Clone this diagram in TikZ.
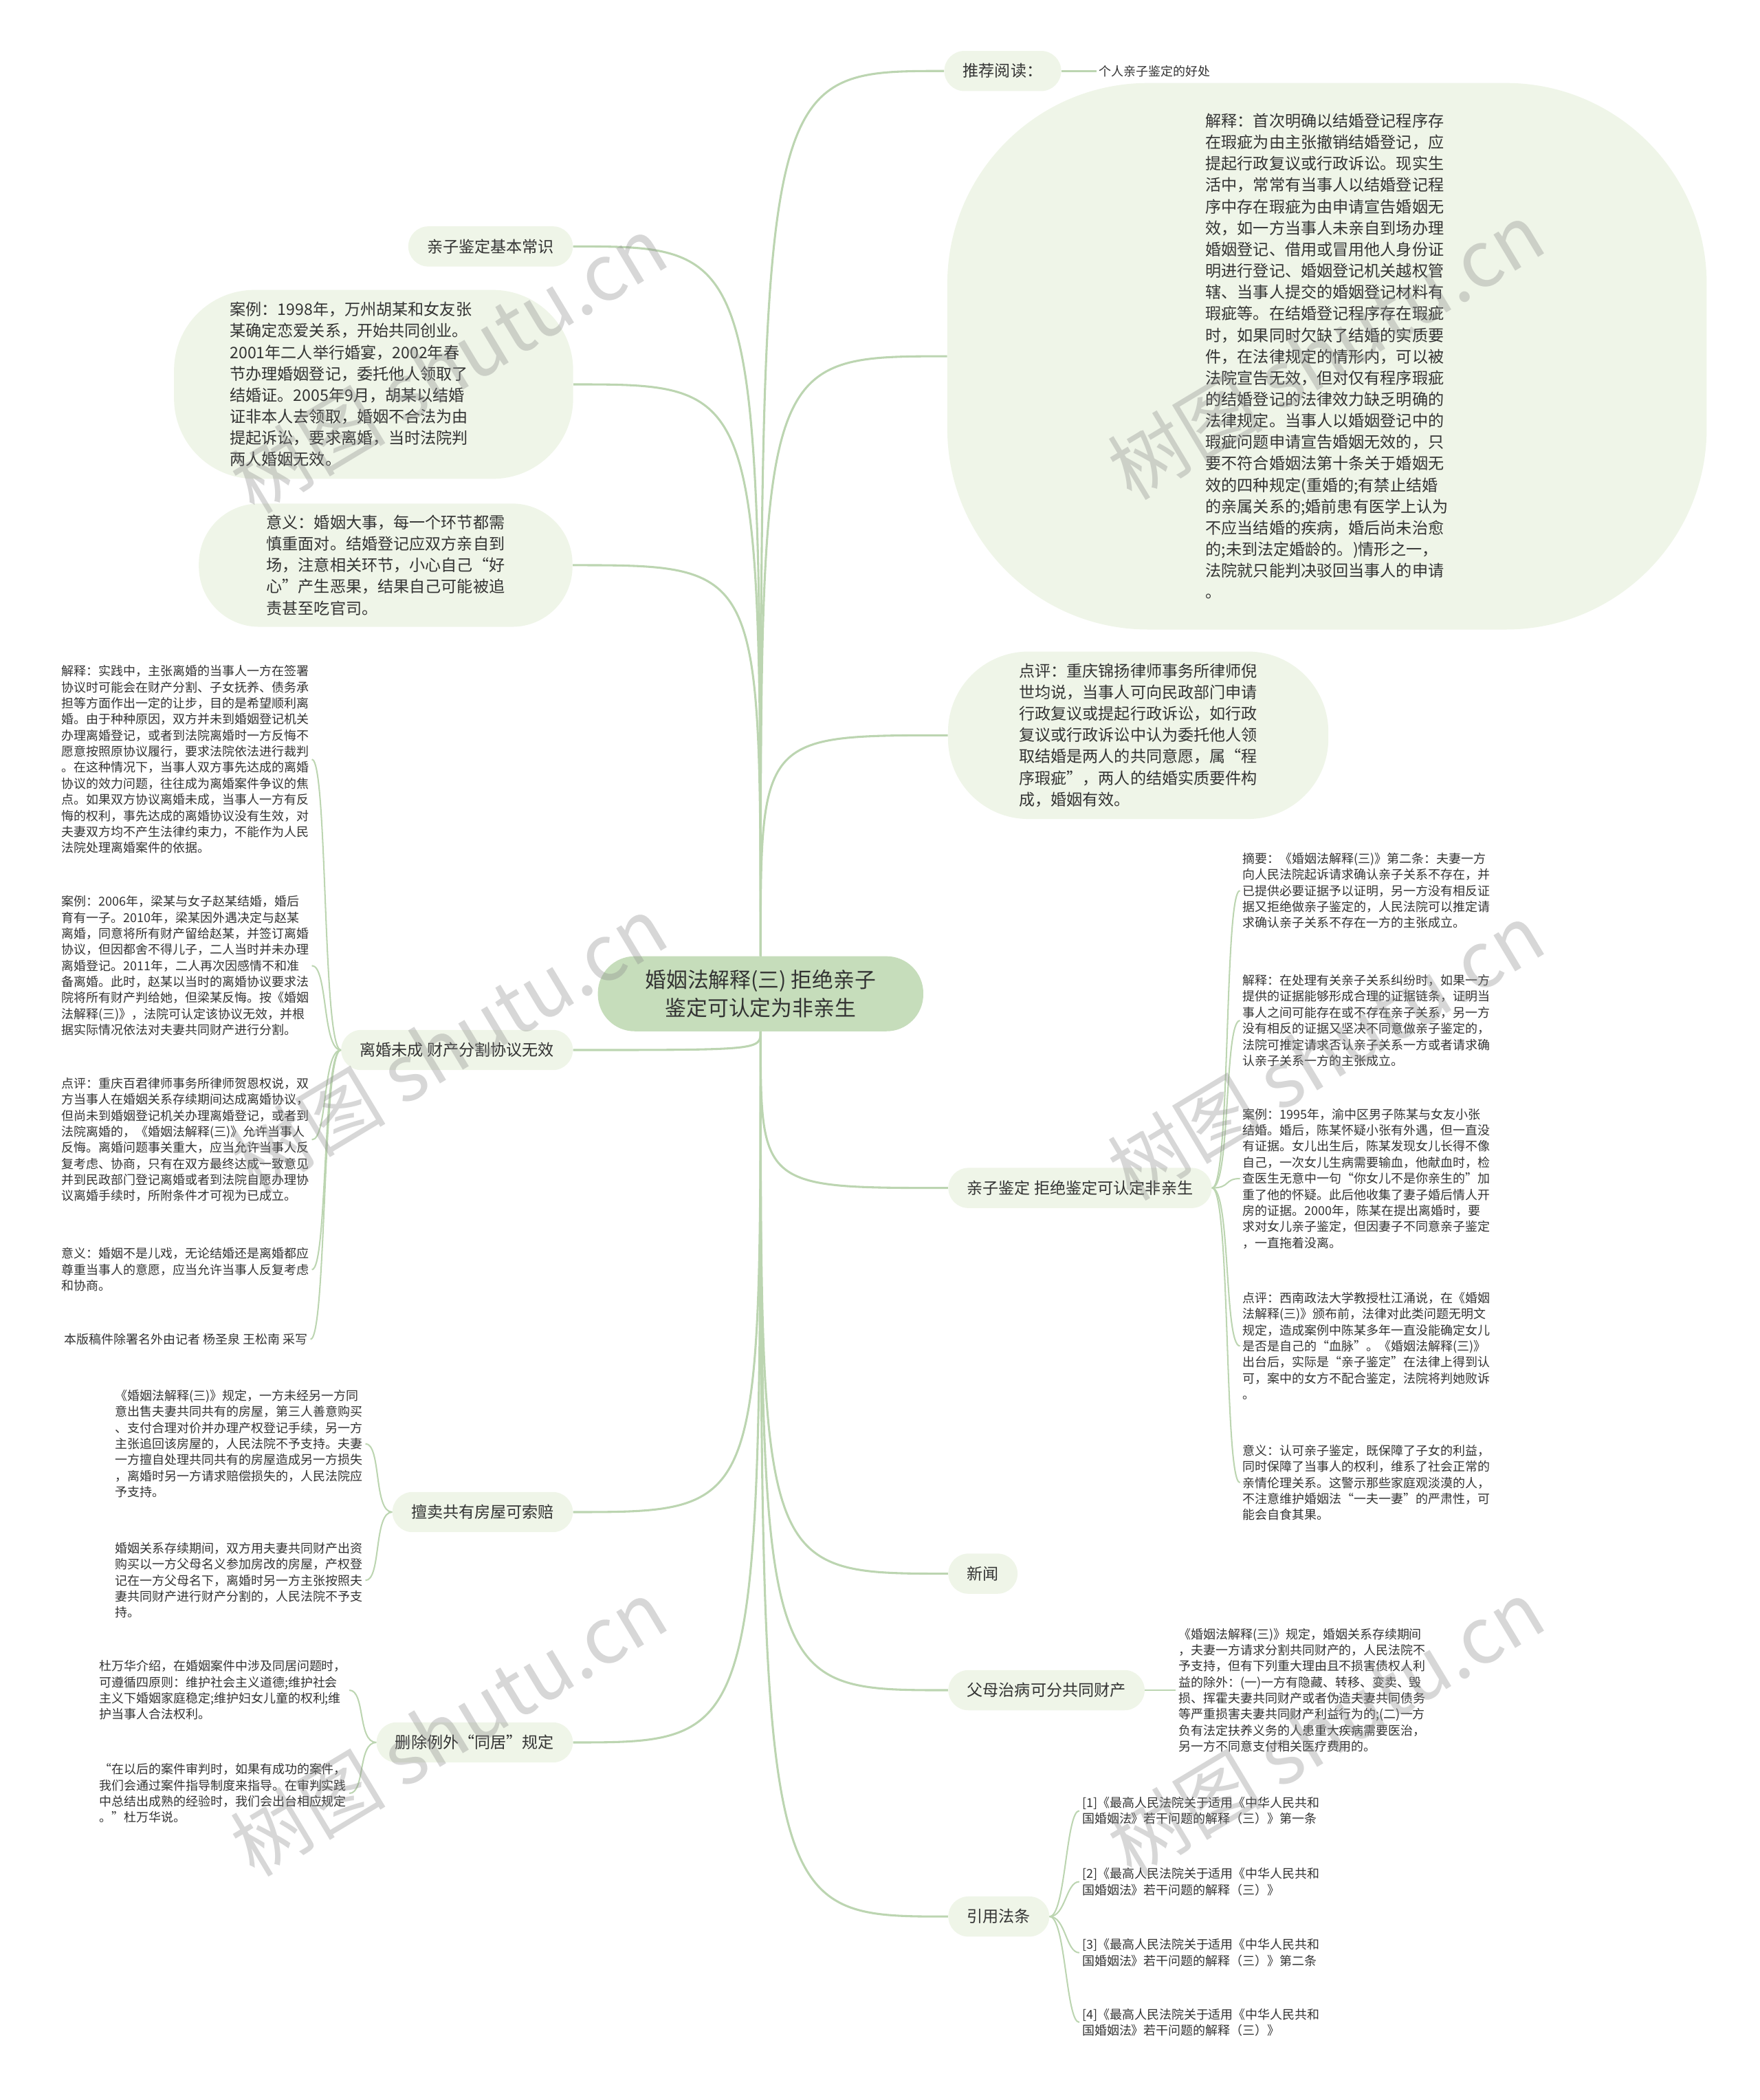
\documentclass[tikz,border=0pt]{standalone}
\usepackage{fontspec}
\setmainfont{Noto Sans CJK SC}
\usetikzlibrary{positioning}
\definecolor{MMRoot}{HTML}{C6DDBB}
\definecolor{MMTopic}{HTML}{EFF5E8}
\definecolor{MMLine}{HTML}{BCD5B1}
\definecolor{MMText}{HTML}{333333}
\definecolor{MMWater}{HTML}{8C8C8C}

\begin{document}
\begin{tikzpicture}[
      x=.04cm,y=-.04cm,
      root/.style={fill=MMRoot,rounded corners=1.1cm,minimum width=9.72cm,
        minimum height=2.24cm,align=center,text=MMText,
        font=\fontsize{18}{24}\selectfont},
      topic/.style={fill=MMTopic,rounded corners=.6cm,minimum height=1.2cm,
        inner xsep=.56cm,text=MMText,font=\fontsize{13.5}{18.2}\selectfont},
      bubble/.style={fill=MMTopic,rounded corners=2.4cm,align=left,
        text=MMText,font=\fontsize{13.5}{18.2}\selectfont},
      note/.style={align=left,inner sep=.08cm,text=MMText,
        font=\fontsize{10.5}{13.66}\selectfont},
      link/.style={draw=MMLine,line width=1.8pt},
      twig/.style={draw=MMLine,line width=1.2pt},
      wmark/.style={rotate=31,text=MMWater,text opacity=.35,
        font=\fontsize{66}{70}\selectfont}
    ]
      \useasboundingbox (0,0) rectangle (1314,1568);
      % centre
      \node[root] (root) at (568,742) {婚姻法解释(三) 拒绝亲子\\鉴定可认定为非亲生};

      % right side
      \node[topic,anchor=west] (tjyd) at (705,53) {推荐阅读：};
      \node[note,right=1.04cm of tjyd] (grqz) {个人亲子鉴定的好处};
      \node[bubble,minimum width=22.68cm,minimum height=16.32cm,rounded corners=6cm] (xcjs) at (991,266) {解释：首次明确以结婚登记程序存\\在瑕疵为由主张撤销结婚登记，应\\提起行政复议或行政诉讼。现实生\\活中，常常有当事人以结婚登记程\\序中存在瑕疵为由申请宣告婚姻无\\效，如一方当事人未亲自到场办理\\婚姻登记、借用或冒用他人身份证\\明进行登记、婚姻登记机关越权管\\辖、当事人提交的婚姻登记材料有\\瑕疵等。在结婚登记程序存在瑕疵\\时，如果同时欠缺了结婚的实质要\\件，在法律规定的情形内，可以被\\法院宣告无效，但对仅有程序瑕疵\\的结婚登记的法律效力缺乏明确的\\法律规定。当事人以婚姻登记中的\\瑕疵问题申请宣告婚姻无效的，只\\要不符合婚姻法第十条关于婚姻无\\效的四种规定(重婚的;有禁止结婚\\的亲属关系的;婚前患有医学上认为\\不应当结婚的疾病，婚后尚未治愈\\的;未到法定婚龄的。)情形之一，\\法院就只能判决驳回当事人的申请\\。};
      \node[bubble,minimum width=11.36cm,minimum height=5cm] (njdp) at (850,549) {点评：重庆锦扬律师事务所律师倪\\世均说，当事人可向民政部门申请\\行政复议或提起行政诉讼，如行政\\复议或行政诉讼中认为委托他人领\\取结婚是两人的共同意愿，属“程\\序瑕疵”，两人的结婚实质要件构\\成，婚姻有效。};
      \node[topic,anchor=west] (qzjd) at (708,887) {亲子鉴定 拒绝鉴定可认定非亲生};
      \node[topic,anchor=west] (xw) at (708,1175) {新闻};
      \node[topic,anchor=west] (fmzb) at (708,1262) {父母治病可分共同财产};
      \node[topic,anchor=west] (yyft) at (708,1431) {引用法条};

      \node[note,anchor=west] (qzzy) at (926,665) {摘要：《婚姻法解释(三)》第二条：夫妻一方\\向人民法院起诉请求确认亲子关系不存在，并\\已提供必要证据予以证明，另一方没有相反证\\据又拒绝做亲子鉴定的，人民法院可以推定请\\求确认亲子关系不存在一方的主张成立。};
      \node[note,anchor=west] (qzjs) at (926,762) {解释：在处理有关亲子关系纠纷时，如果一方\\提供的证据能够形成合理的证据链条，证明当\\事人之间可能存在或不存在亲子关系，另一方\\没有相反的证据又坚决不同意做亲子鉴定的，\\法院可推定请求否认亲子关系一方或者请求确\\认亲子关系一方的主张成立。};
      \node[note,anchor=west] (qzal) at (926,880) {案例：1995年，渝中区男子陈某与女友小张\\结婚。婚后，陈某怀疑小张有外遇，但一直没\\有证据。女儿出生后，陈某发现女儿长得不像\\自己，一次女儿生病需要输血，他献血时，检\\查医生无意中一句“你女儿不是你亲生的”加\\重了他的怀疑。此后他收集了妻子婚后情人开\\房的证据。2000年，陈某在提出离婚时，要\\求对女儿亲子鉴定，但因妻子不同意亲子鉴定\\，一直拖着没离。};
      \node[note,anchor=west] (qzdp) at (926,1005) {点评：西南政法大学教授杜江涌说，在《婚姻\\法解释(三)》颁布前，法律对此类问题无明文\\规定，造成案例中陈某多年一直没能确定女儿\\是否是自己的“血脉”。《婚姻法解释(三)》\\出台后，实际是“亲子鉴定”在法律上得到认\\可，案中的女方不配合鉴定，法院将判她败诉\\。};
      \node[note,anchor=west] (qzyy) at (926,1107) {意义：认可亲子鉴定，既保障了子女的利益，\\同时保障了当事人的权利，维系了社会正常的\\亲情伦理关系。这警示那些家庭观淡漠的人，\\不注意维护婚姻法“一夫一妻”的严肃性，可\\能会自食其果。};
      \node[note,right=.92cm of fmzb] (fmgd) {《婚姻法解释(三)》规定，婚姻关系存续期间\\，夫妻一方请求分割共同财产的，人民法院不\\予支持，但有下列重大理由且不损害债权人利\\益的除外：(一)一方有隐藏、转移、变卖、毁\\损、挥霍夫妻共同财产或者伪造夫妻共同债务\\等严重损害夫妻共同财产利益行为的;(二)一方\\负有法定扶养义务的人患重大疾病需要医治，\\另一方不同意支付相关医疗费用的。};
      \node[note,anchor=west] (ft1) at (806,1352) {[1]《最高人民法院关于适用《中华人民共和\\国婚姻法》若干问题的解释（三）》第一条};
      \node[note,anchor=west] (ft2) at (806,1405) {[2]《最高人民法院关于适用《中华人民共和\\国婚姻法》若干问题的解释（三）》};
      \node[note,anchor=west] (ft3) at (806,1458) {[3]《最高人民法院关于适用《中华人民共和\\国婚姻法》若干问题的解释（三）》第二条};
      \node[note,anchor=west] (ft4) at (806,1510) {[4]《最高人民法院关于适用《中华人民共和\\国婚姻法》若干问题的解释（三）》};

      % left side
      \node[topic,anchor=east] (jbcs) at (428,184) {亲子鉴定基本常识};
      \node[bubble,minimum width=11.92cm,minimum height=5.64cm] (hmal) at (279,287) {案例：1998年，万州胡某和女友张\hspace*{1.36cm}\\某确定恋爱关系，开始共同创业。\\2001年二人举行婚宴，2002年春\\节办理婚姻登记，委托他人领取了\\结婚证。2005年9月，胡某以结婚\\证非本人去领取，婚姻不合法为由\\提起诉讼，要求离婚，当时法院判\\两人婚姻无效。};
      \node[bubble,minimum width=11.16cm,minimum height=3.68cm,rounded corners=1.8cm] (hyyy) at (288,422) {意义：婚姻大事，每一个环节都需\\慎重面对。结婚登记应双方亲自到\\场，注意相关环节，小心自己“好\\心”产生恶果，结果自己可能被追\\责甚至吃官司。};
      \node[topic,anchor=east] (lhwc) at (428,784) {离婚未成 财产分割协议无效};
      \node[topic,anchor=east] (smfw) at (428,1129) {擅卖共有房屋可索赔};
      \node[topic,anchor=east] (sclw) at (428,1301) {删除例外“同居”规定};

      \node[note,anchor=west] (lhjs) at (44,567) {解释：实践中，主张离婚的当事人一方在签署\\协议时可能会在财产分割、子女抚养、债务承\\担等方面作出一定的让步，目的是希望顺利离\\婚。由于种种原因，双方并未到婚姻登记机关\\办理离婚登记，或者到法院离婚时一方反悔不\\愿意按照原协议履行，要求法院依法进行裁判\\。在这种情况下，当事人双方事先达成的离婚\\协议的效力问题，往往成为离婚案件争议的焦\\点。如果双方协议离婚未成，当事人一方有反\\悔的权利，事先达成的离婚协议没有生效，对\\夫妻双方均不产生法律约束力，不能作为人民\\法院处理离婚案件的依据。};
      \node[note,anchor=west] (lhal) at (44,721) {案例：2006年，梁某与女子赵某结婚，婚后\\育有一子。2010年，梁某因外遇决定与赵某\\离婚，同意将所有财产留给赵某，并签订离婚\\协议，但因都舍不得儿子，二人当时并未办理\\离婚登记。2011年，二人再次因感情不和准\\备离婚。此时，赵某以当时的离婚协议要求法\\院将所有财产判给她，但梁某反悔。按《婚姻\\法解释(三)》，法院可认定该协议无效，并根\\据实际情况依法对夫妻共同财产进行分割。};
      \node[note,anchor=west] (lhdp) at (44,851) {点评：重庆百君律师事务所律师贺恩权说，双\\方当事人在婚姻关系存续期间达成离婚协议，\\但尚未到婚姻登记机关办理离婚登记，或者到\\法院离婚的，《婚姻法解释(三)》允许当事人\\反悔。离婚问题事关重大，应当允许当事人反\\复考虑、协商，只有在双方最终达成一致意见\\并到民政部门登记离婚或者到法院自愿办理协\\议离婚手续时，所附条件才可视为已成立。};
      \node[note,anchor=west] (lhyy) at (44,948) {意义：婚姻不是儿戏，无论结婚还是离婚都应\\尊重当事人的意愿，应当允许当事人反复考虑\\和协商。};
      \node[note,anchor=west] (lhby) at (46,1000) {本版稿件除署名外由记者 杨圣泉 王松南 采写};
      \node[note,anchor=west] (smgd) at (84,1078) {《婚姻法解释(三)》规定，一方未经另一方同\\意出售夫妻共同共有的房屋，第三人善意购买\\、支付合理对价并办理产权登记手续，另一方\\主张追回该房屋的，人民法院不予支持。夫妻\\一方擅自处理共同共有的房屋造成另一方损失\\，离婚时另一方请求赔偿损失的，人民法院应\\予支持。};
      \node[note,anchor=west] (smfg) at (84,1180) {婚姻关系存续期间，双方用夫妻共同财产出资\\购买以一方父母名义参加房改的房屋，产权登\\记在一方父母名下，离婚时另一方主张按照夫\\妻共同财产进行财产分割的，人民法院不予支\\持。};
      \node[note,anchor=west] (scyz) at (72,1262) {杜万华介绍，在婚姻案件中涉及同居问题时，\\可遵循四原则：维护社会主义道德;维护社会\\主义下婚姻家庭稳定;维护妇女儿童的权利;维\\护当事人合法权利。};
      \node[note,anchor=west] (scsp) at (72,1339) {“在以后的案件审判时，如果有成功的案件，\\我们会通过案件指导制度来指导。在审判实践\\中总结出成熟的经验时，我们会出台相应规定\\。”杜万华说。};

      % connectors from the centre
      \draw[link] (root.north) .. controls (root.north |- tjyd.west) .. (tjyd.west);
      \draw[link] (root.north) .. controls (root.north |- xcjs.west) .. (xcjs.west);
      \draw[link] (root.north) .. controls (root.north |- njdp.west) .. (njdp.west);
      \draw[link] (root.south) .. controls (root.south |- qzjd.west) .. (qzjd.west);
      \draw[link] (root.south) .. controls (root.south |- xw.west) .. (xw.west);
      \draw[link] (root.south) .. controls (root.south |- fmzb.west) .. (fmzb.west);
      \draw[link] (root.south) .. controls (root.south |- yyft.west) .. (yyft.west);
      \draw[link] (root.north) .. controls (root.north |- jbcs.east) .. (jbcs.east);
      \draw[link] (root.north) .. controls (root.north |- hmal.east) .. (hmal.east);
      \draw[link] (root.north) .. controls (root.north |- hyyy.east) .. (hyyy.east);
      \draw[link] (root.south) .. controls (root.south |- lhwc.east) .. (lhwc.east);
      \draw[link] (root.south) .. controls (root.south |- smfw.east) .. (smfw.east);
      \draw[link] (root.south) .. controls (root.south |- sclw.east) .. (sclw.east);

      % second level
      \draw[link] (tjyd.east) -- (grqz.west);
      \draw[twig] (qzjd.east) .. controls +(14,0) and +(-12,0) .. (qzzy.west);
      \draw[twig] (qzjd.east) .. controls +(14,0) and +(-12,0) .. (qzjs.west);
      \draw[twig] (qzjd.east) .. controls +(14,0) and +(-12,0) .. (qzal.west);
      \draw[twig] (qzjd.east) .. controls +(14,0) and +(-12,0) .. (qzdp.west);
      \draw[twig] (qzjd.east) .. controls +(14,0) and +(-12,0) .. (qzyy.west);
      \draw[twig] (fmzb.east) -- (fmgd.west);
      \draw[twig] (yyft.east) .. controls +(12,0) and +(-10,0) .. (ft1.west);
      \draw[twig] (yyft.east) .. controls +(12,0) and +(-10,0) .. (ft2.west);
      \draw[twig] (yyft.east) .. controls +(12,0) and +(-10,0) .. (ft3.west);
      \draw[twig] (yyft.east) .. controls +(12,0) and +(-10,0) .. (ft4.west);
      \draw[twig] (lhwc.west) .. controls +(-14,0) and +(12,0) .. (lhjs.east);
      \draw[twig] (lhwc.west) .. controls +(-14,0) and +(12,0) .. (lhal.east);
      \draw[twig] (lhwc.west) .. controls +(-14,0) and +(12,0) .. (lhdp.east);
      \draw[twig] (lhwc.west) .. controls +(-14,0) and +(12,0) .. (lhyy.east);
      \draw[twig] (lhwc.west) .. controls +(-14,0) and +(12,0) .. (lhby.east);
      \draw[twig] (smfw.west) .. controls +(-14,0) and +(12,0) .. (smgd.east);
      \draw[twig] (smfw.west) .. controls +(-14,0) and +(12,0) .. (smfg.east);
      \draw[twig] (sclw.west) .. controls +(-14,0) and +(12,0) .. (scyz.east);
      \draw[twig] (sclw.west) .. controls +(-14,0) and +(12,0) .. (scsp.east);

      % watermarks
      \node[wmark] (wm1) at (335,272) {树图 shutu.cn};
      \node[wmark] (wm2) at (990,262) {树图 shutu.cn};
      \node[wmark] (wm3) at (335,780) {树图 shutu.cn};
      \node[wmark] (wm4) at (990,785) {树图 shutu.cn};
      \node[wmark] (wm5) at (335,1290) {树图 shutu.cn};
      \node[wmark] (wm6) at (990,1290) {树图 shutu.cn};
    \end{tikzpicture}
\end{document}
